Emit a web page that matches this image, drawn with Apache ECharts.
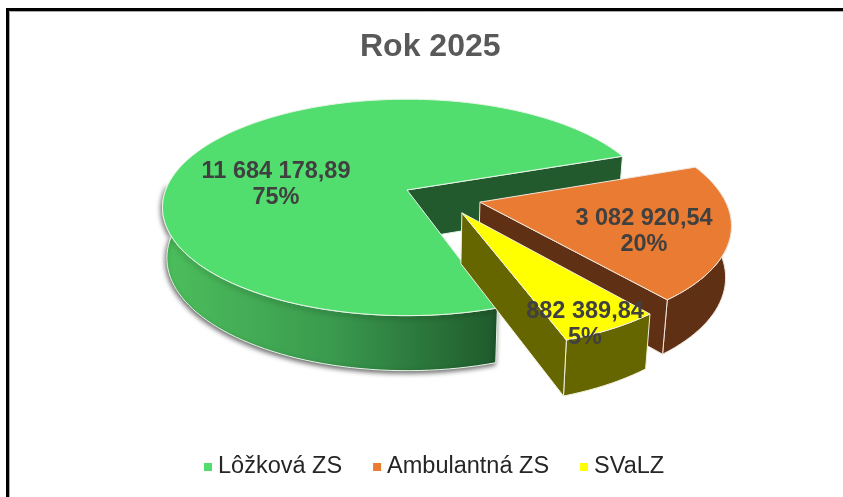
<!DOCTYPE html>
<html>
<head>
<meta charset="UTF-8">
<title>Rok 2025</title>
<script src="https://cdn.jsdelivr.net/npm/echarts@6/dist/echarts.min.js"></script>
<style>
  html, body { margin: 0; padding: 0; background: #fff; }
  #main { width: 843px; height: 497px; }
</style>
</head>
<body>
<div id="main"></div>
<script>
var categories = ['Lôžková ZS', 'Ambulantná ZS', 'SVaLZ'];
var values = [11684178.89, 3082920.54, 882389.84];
var percentLabels = ['75%', '20%', '5%'];

var total = values.reduce(function (a, b) { return a + b; }, 0);

// how the flat pie is tilted on screen, fitted to the picture
var cx = 407, cy = 190;
var scaleX = 245, scaleY = 107;
var persp = 0.1636;
var radius = 0.985;
var explode = 0.157;
var startAngle = 71.5;       // degrees, clockwise from 3 o'clock
var wallDrop = 50;           // height of the pie at the middle
var bottomX = 0.982, bottomY = 1.04;

function dir(deg) {
  var a = deg * Math.PI / 180;
  return [Math.cos(a), Math.sin(a)];
}

// start / end / mid angle of every slice
var angles = [];
(function () {
  var a = startAngle;
  values.forEach(function (v) {
    var sweep = v / total * 360;
    angles.push({ start: a, end: a + sweep, mid: a + sweep / 2 });
    a += sweep;
  });
})();

// plane -> screen, top face or bottom face
function project(u, v, bottom) {
  var w = 1 - persp * v;
  if (bottom) {
    return [cx + scaleX * bottomX * u / w, cy + wallDrop + scaleY * bottomY * v / w];
  }
  return [cx + scaleX * u / w, cy + scaleY * v / w];
}

function fmt(n) {
  var parts = n.toFixed(2).split('.');
  return parts[0].replace(/\B(?=(\d{3})+$)/g, ' ') + ',' + parts[1];
}

function slice(i, opt) {
  var ang = angles[i];
  var d0 = dir(angles[0].mid);
  var d = dir(ang.mid);
  // first slice stays at the origin, the others move away from it
  var ox = explode * (d[0] - d0[0]);
  var oy = explode * (d[1] - d0[1]);

  function pt(r, deg, bottom) {
    var p = dir(deg);
    return project(ox + r * p[0], oy + r * p[1], bottom);
  }
  function arc(bottom, from, to) {
    var pts = [];
    var n = Math.ceil(Math.abs(to - from) / 2);
    for (var k = 0; k <= n; k++) {
      pts.push(pt(radius, from + (to - from) * k / n, bottom));
    }
    return pts;
  }

  var edge = { stroke: opt.edge, lineWidth: 1 };
  var children = [];

  function poly(points, fill, extra) {
    children.push({
      type: 'polygon',
      shape: { points: points },
      style: Object.assign({ fill: fill }, edge, extra || {})
    });
  }

  // outer wall, only the part that faces the viewer
  var turn = Math.floor((ang.mid + 90) / 360) * 360;
  var from = Math.max(ang.start, turn - 3);
  var to = Math.min(ang.end, turn + 183);
  poly(arc(false, from, to).concat(arc(true, to, from)), opt.wall, opt.wallStyle);
  // cut wall at the end of the slice, the one at the start faces away here
  poly([pt(0, ang.end), pt(radius, ang.end), pt(radius, ang.end, true), pt(0, ang.end, true)], opt.inner);
  // top face
  poly([pt(0, 0)].concat(arc(false, ang.start, ang.end)), opt.color);

  children.push({
    type: 'text',
    x: opt.label[0],
    y: opt.label[1],
    style: {
      text: fmt(values[i]) + '\n' + percentLabels[i],
      fill: '#404040',
      font: 'bold 23.5px "Liberation Sans", Arial, sans-serif',
      lineHeight: 26,
      align: 'center',
      verticalAlign: 'middle'
    }
  });
  return { type: 'group', children: children };
}

function pieSeries(i, opt) {
  return {
    name: categories[i],
    type: 'custom',
    coordinateSystem: 'none',
    silent: true,
    itemStyle: { color: opt.color },
    data: [[values[i]]],
    renderItem: function () { return slice(i, opt); }
  };
}

var chart = echarts.init(document.getElementById('main'), null, { renderer: 'canvas' });

chart.setOption({
  animation: false,
  backgroundColor: '#fff',
  title: {
    text: 'Rok 2025',
    left: 355,
    top: 26,
    textStyle: {
      color: '#595959',
      fontFamily: '"Liberation Sans", Arial, sans-serif',
      fontWeight: 'bold',
      fontSize: 32
    }
  },
  legend: {
    left: 199,
    top: 450,
    icon: 'rect',
    itemWidth: 8,
    itemHeight: 8,
    itemGap: 31,
    textStyle: {
      color: '#262626',
      fontFamily: '"Liberation Sans", Arial, sans-serif',
      fontSize: 23.5,
      padding: [0, 0, 0, 1]
    },
    data: categories
  },
  graphic: [{
    type: 'polyline',
    silent: true,
    shape: { points: [[7.5, 497], [7.5, 9.5], [843, 9.5]] },
    style: { stroke: '#000', lineWidth: 3, fill: null }
  }, {
    type: 'polyline',
    silent: true,
    shape: { points: [[9.5, 497], [9.5, 11.5], [843, 11.5]] },
    style: { stroke: '#AAAAAA', lineWidth: 1, fill: null }
  }],
  series: [
    pieSeries(0, {
      color: '#52DE6E',
      inner: '#225A2E',
      edge: '#E8F5E8',
      label: [276, 185],
      wall: {
        type: 'linear', x: 165, y: 0, x2: 497, y2: 0, global: true,
        colorStops: [
          { offset: 0, color: '#4CBE5C' },
          { offset: 0.5, color: '#3A9A4E' },
          { offset: 1, color: '#1F5A2C' }
        ]
      },
      wallStyle: { shadowColor: 'rgba(0,0,0,0.6)', shadowBlur: 5, shadowOffsetX: -1, shadowOffsetY: 2 }
    }),
    pieSeries(1, {
      color: '#E97C32',
      inner: '#5F3014',
      wall: '#5F3014',
      edge: '#F0E6DC',
      label: [644, 232]
    }),
    pieSeries(2, {
      color: '#FFFF00',
      inner: '#666600',
      wall: '#666600',
      edge: '#F0F0E0',
      label: [585, 325]
    })
  ]
});
</script>
</body>
</html>
